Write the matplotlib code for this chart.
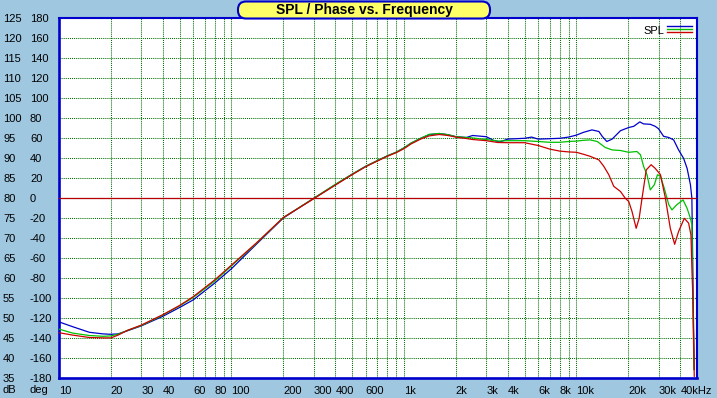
import matplotlib
matplotlib.use("Agg")
import matplotlib.pyplot as plt
from matplotlib.patches import FancyBboxPatch
from matplotlib.lines import Line2D
from matplotlib.transforms import IdentityTransform

plt.rcParams['font.family'] = ['Liberation Sans', 'DejaVu Sans']

# ---------------- data ----------------
freq_blue = [10, 12, 15, 18, 20, 22, 25, 30, 40, 50, 60, 80, 100, 140, 200, 300, 400, 500, 600,
             700, 800, 900, 1000, 1100, 1250, 1400, 1600, 1800, 2000, 2300, 2500, 3000, 3300,
             3600, 4000, 5000, 5500, 6000, 7000, 8000, 9000, 10000, 11000, 12300, 13500, 14100,
             15000, 16100, 18000, 20100, 21500, 23300, 24500, 26800, 28600, 29900, 32000, 34300,
             36600, 39100, 41800, 43800, 45800, 46700, 47100, 47600, 48200]
spl_blue = [48.9, 47.7, 46.3, 45.9, 45.8, 45.9, 46.7, 47.9, 50.3, 52.5, 54.4, 58.6, 62.2, 68.4,
            74.9, 79.8, 83.2, 85.8, 87.8, 89.2, 90.4, 91.3, 92.4, 93.6, 94.8, 95.7, 96.0, 95.7,
            95.2, 95.0, 95.5, 95.2, 94.3, 93.9, 94.6, 94.8, 95.1, 94.6, 94.7, 94.8, 95.1, 95.6,
            96.3, 96.9, 96.5, 95.3, 94.0, 94.6, 96.7, 97.5, 97.8, 98.9, 98.4, 98.3, 97.8, 97.2,
            95.3, 95.0, 94.4, 91.9, 89.8, 87.3, 83.2, 79.8, 67.3, 52.0, 37.0]

freq_green = [10, 12, 15, 18, 20, 22, 25, 30, 40, 50, 60, 80, 100, 140, 200, 300, 400, 500, 600,
              700, 800, 900, 1000, 1100, 1250, 1400, 1600, 1800, 2000, 2300, 2500, 2800, 3000,
              3500, 4000, 5000, 6000, 7000, 8000, 9000, 10000, 11000, 12000, 13200, 14700, 16100,
              18000, 20100, 22400, 23500, 24500, 25650, 26800, 28300, 29500, 30700, 32300, 34300,
              35800, 38200, 41500, 43800, 45800, 46700, 47100, 48000]
spl_green = [47.1, 46.1, 45.5, 45.3, 45.4, 45.8, 46.8, 48.0, 50.6, 52.9, 55.0, 59.1, 62.9, 68.6,
             75.0, 79.8, 83.3, 85.8, 87.8, 89.2, 90.4, 91.3, 92.4, 93.6, 94.8, 95.8, 96.0, 95.7,
             95.2, 95.0, 94.9, 94.6, 94.5, 94.1, 94.2, 94.2, 94.0, 93.8, 93.8, 94.0, 94.1, 94.3,
             94.4, 94.0, 92.5, 91.9, 91.75, 91.3, 91.5, 90.7, 87.8, 85.7, 81.9, 83.2, 85.7, 85.3,
             82.3, 78.2, 76.9, 78.2, 79.4, 77.3, 74.8, 73.2, 60.0, 37.0]

freq_red = [10, 12, 15, 18, 20, 22, 25, 30, 40, 50, 60, 80, 100, 140, 200, 300, 400, 500, 600,
            700, 800, 900, 1000, 1100, 1250, 1400, 1600, 1800, 2000, 2300, 2500, 3000, 3500,
            4000, 5000, 6000, 7000, 8000, 9000, 10000, 11000, 12000, 13500, 14400, 15400, 16450,
            18000, 19200, 20100, 21000, 22200, 23100, 24000, 25400, 27100, 28600, 30700, 32800,
            35000, 37100, 39100, 42200, 44700, 46100, 47300, 48200]
spl_red = [46.2, 45.6, 45.0, 44.9, 44.9, 45.6, 46.8, 48.1, 50.7, 53.0, 55.2, 59.4, 63.1, 68.7,
           75.0, 79.7, 83.1, 85.7, 87.7, 89.1, 90.3, 91.2, 92.2, 93.4, 94.6, 95.4, 95.75, 95.5,
           95.1, 94.75, 94.5, 94.2, 93.75, 93.7, 93.7, 93.0, 92.1, 91.6, 91.4, 91.3, 90.8, 90.3,
           89.4, 87.8, 85.7, 82.8, 81.5, 79.8, 79.0, 76.5, 72.3, 74.8, 79.8, 86.9, 88.2, 87.3,
           85.7, 79.8, 72.3, 68.3, 71.5, 74.8, 73.6, 70.7, 55.0, 35.3]

freq_labels = {10: "10", 20: "20", 30: "30", 40: "40", 60: "60", 80: "80", 100: "100",
               200: "200", 300: "300", 400: "400", 600: "600", 1000: "1k", 2000: "2k",
               3000: "3k", 4000: "4k", 6000: "6k", 8000: "8k", 10000: "10k", 20000: "20k",
               30000: "30k", 40000: "40kHz"}
db_ticks = list(range(35, 126, 5))
deg_ticks = list(range(-180, 181, 20))

# ---------------- figure ----------------
W, H = 717, 398
BG = '#9FC7E0'
BLUE = '#0000CC'
fig = plt.figure(figsize=(W / 100, H / 100), dpi=100, facecolor=BG)
L, R, T, B = 59, 697, 17.5, 377.5
ax = fig.add_axes([L / W, (H - B) / H, (R - L) / W, (B - T) / H])
ax.set_facecolor('white')
ax.set_xscale('log')
ax.set_xlim(10, 50000)
ax.set_ylim(35, 125)

grid_pos = [k * 10 ** d for d in range(1, 5) for k in range(1, 10) if k * 10 ** d <= 50000]
ax.set_xticks(grid_pos, labels=[freq_labels.get(p, "") for p in grid_pos])
ax.xaxis.set_minor_locator(matplotlib.ticker.NullLocator())
ax.set_yticks(db_ticks, labels=[str(v) for v in db_ticks])
ax.yaxis.set_minor_locator(matplotlib.ticker.NullLocator())
ax.grid(True, color='#007000', linestyle=(0, (1, 1)), linewidth=0.75)
ax.tick_params(axis='both', length=0, labelsize=8, colors='black')
ax.tick_params(axis='x', pad=6)
ax.tick_params(axis='y', pad=40.3)
for t in ax.get_xticklabels():
    t.set_horizontalalignment('left')
for t in ax.get_yticklabels():
    t.set_horizontalalignment('left')

for s in ['left', 'bottom']:
    ax.spines[s].set_color(BLUE)
    ax.spines[s].set_linewidth(1.9)
for s in ['top', 'right']:
    ax.spines[s].set_color(BLUE)
    ax.spines[s].set_linewidth(1.5)

ax.plot(freq_blue, spl_blue, color='#0000CC', lw=0.9, zorder=3)
ax.plot(freq_green, spl_green, color='#00C000', lw=0.9, zorder=4)
ax.plot(freq_red, spl_red, color='#CC0000', lw=0.9, zorder=5)

# phase axis (labels on the left)
ax2 = ax.twinx()
ax2.set_ylim(-180, 180)
ax2.yaxis.tick_left()
ax2.set_yticks(deg_ticks, labels=[str(v) for v in deg_ticks])
ax2.tick_params(axis='y', length=0, labelsize=8, colors='black', pad=20.9)
for t in ax2.get_yticklabels():
    t.set_horizontalalignment('left')
for s in ax2.spines.values():
    s.set_visible(False)
ax2.axhline(0, color='#B40000', lw=0.9, zorder=2)

# bottom-left unit labels
fig.text(3 / W, 1 - 390 / H, "dB", fontsize=8, ha='left', va='center')
fig.text(30 / W, 1 - 390 / H, "deg", fontsize=8, ha='left', va='center')

# title box
tb = FancyBboxPatch((238, H - 18.5), 252, 17, boxstyle='round,pad=0,rounding_size=8',
                    facecolor='#FFFF66', edgecolor=BLUE, linewidth=1.5,
                    transform=IdentityTransform(), zorder=10)
fig.patches.append(tb)
fig.text(364 / W, 1 - 10 / H, "SPL / Phase vs. Frequency", fontsize=10, fontweight='bold',
         ha='center', va='center', zorder=11)

# legend
fig.text(643 / W, 1 - 31 / H, "SPL", fontsize=8, ha='left', va='center', zorder=11)
for yy, c in [(25.5, '#0000CC'), (28.5, '#00C000'), (31.5, '#CC0000')]:
    fig.add_artist(Line2D([667, 692], [H - yy, H - yy], color=c, lw=1.0,
                          transform=IdentityTransform(), zorder=11))

fig.savefig('out.png', dpi=100, facecolor=BG)
